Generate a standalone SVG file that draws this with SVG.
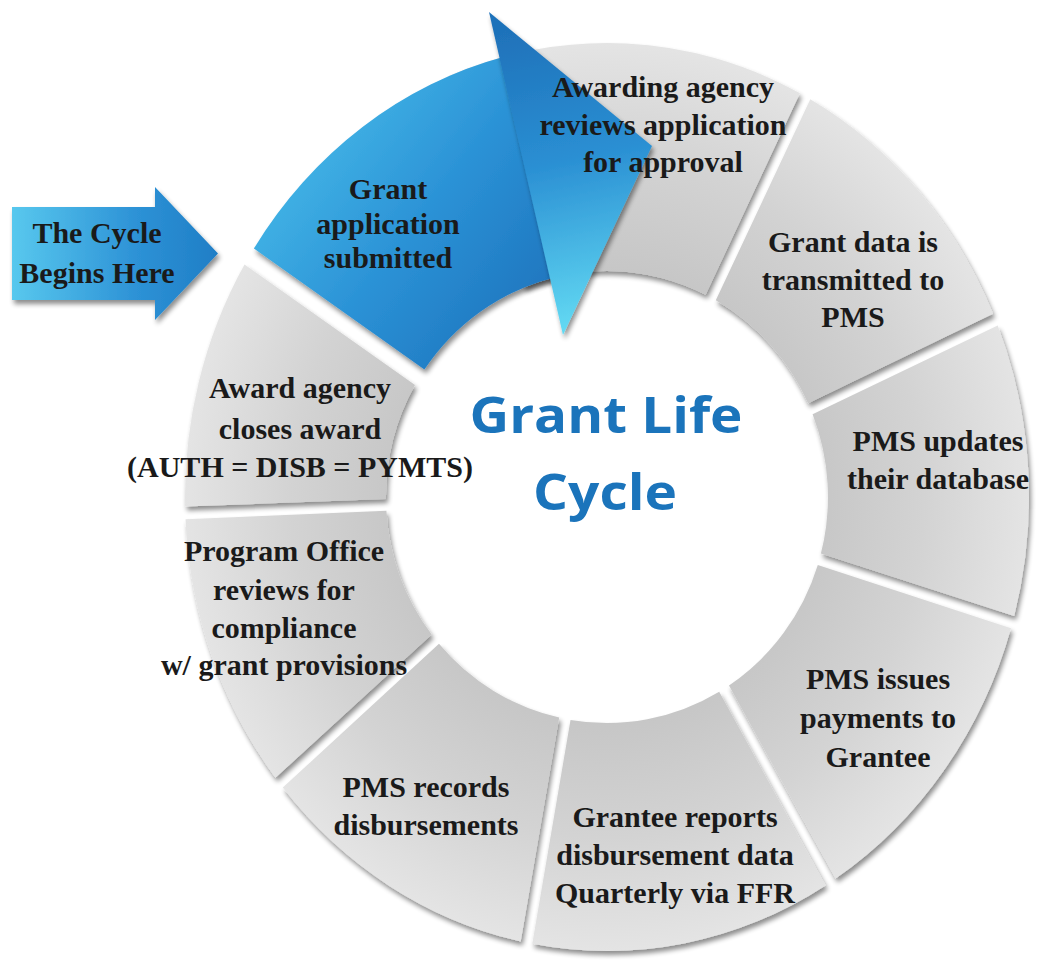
<svg xmlns="http://www.w3.org/2000/svg" width="1038" height="962" viewBox="0 0 1038 962">
  <defs>
    <!-- ring segment fill: darker toward the hole, lighter at the rim -->
    <radialGradient id="grayFill" gradientUnits="userSpaceOnUse" cx="607" cy="497" r="454" gradientTransform="translate(607 497) scale(0.93 1) translate(-607 -497)">
      <stop offset="0.45" stop-color="#c4c4c4"/>
      <stop offset="0.75" stop-color="#d3d3d3"/>
      <stop offset="1" stop-color="#e4e4e4"/>
    </radialGradient>
    <linearGradient id="blueBody" gradientUnits="userSpaceOnUse" x1="250" y1="150" x2="530" y2="370">
      <stop offset="0" stop-color="#48bdea"/>
      <stop offset="0.5" stop-color="#2b92d6"/>
      <stop offset="1" stop-color="#1c70ba"/>
    </linearGradient>
    <linearGradient id="blueHead" gradientUnits="userSpaceOnUse" x1="510" y1="30" x2="575" y2="330">
      <stop offset="0" stop-color="#1f72ba"/>
      <stop offset="0.45" stop-color="#2a8fd3"/>
      <stop offset="1" stop-color="#63daf3"/>
    </linearGradient>
    <linearGradient id="startFill" gradientUnits="userSpaceOnUse" x1="12" y1="0" x2="218" y2="0">
      <stop offset="0" stop-color="#58c8ee"/>
      <stop offset="0.6" stop-color="#2d92d6"/>
      <stop offset="1" stop-color="#1f7ec6"/>
    </linearGradient>
    <filter id="shadow" x="-10%" y="-10%" width="125%" height="125%">
      <feGaussianBlur in="SourceAlpha" stdDeviation="2.5"/>
      <feOffset dx="2" dy="4" result="blur"/>
      <feComponentTransfer>
        <feFuncA type="linear" slope="0.45"/>
      </feComponentTransfer>
      <feMerge>
        <feMergeNode/>
        <feMergeNode in="SourceGraphic"/>
      </feMerge>
    </filter>
    <style>
      .seg { fill: url(#grayFill); filter: url(#shadow); }
      .lbl { font-family: "Liberation Serif", "Times New Roman", serif; font-weight: bold; font-size: 30px; fill: #1a1a1a; text-anchor: middle; }
      .title { font-family: "Open Sans", "Liberation Sans", sans-serif; font-weight: bold; font-size: 51px; fill: #1b74bb; text-anchor: middle; }
    </style>
  </defs>

  <rect width="1038" height="962" fill="#ffffff"/>

  <!-- ring segments, clockwise from the top -->
  <g id="awarding-agency-reviews">
    <path class="seg" d="M448.9 76.1 A422 454 0 0 1 799.9 93.2 L705.6 294.8 A221 226 0 0 0 524.2 287.5 Z"/>
  </g>
  <g id="grant-data-transmitted">
    <path class="seg" d="M810.3 99.2 A422 454 0 0 1 993.1 313.8 L808.1 403.3 A221 226 0 0 0 715.8 300.3 Z"/>
    <text class="lbl" x="853" y="252">Grant data is</text>
    <text class="lbl" x="853" y="290">transmitted to</text>
    <text class="lbl" x="853" y="327">PMS</text>
  </g>
  <g id="pms-updates-database">
    <path class="seg" d="M997.7 325.5 A422 454 0 0 1 1014.2 616 L820.9 553.6 A221 226 0 0 0 812.6 414.2 Z"/>
    <text class="lbl" x="938" y="451">PMS updates</text>
    <text class="lbl" x="938" y="489">their database</text>
  </g>
  <g id="pms-issues-payments">
    <path class="seg" d="M1011 628.2 A422 454 0 0 1 835.6 878.6 L729 685.5 A221 226 0 0 0 817.8 565 Z"/>
    <text class="lbl" x="878" y="689">PMS issues</text>
    <text class="lbl" x="878" y="728">payments to</text>
    <text class="lbl" x="878" y="767">Grantee</text>
  </g>
  <g id="grantee-reports">
    <path class="seg" d="M825.6 885.4 A422 454 0 0 1 532.3 943.8 L570.5 719.9 A221 226 0 0 0 719.2 691.7 Z"/>
    <text class="lbl" x="675" y="827">Grantee reports</text>
    <text class="lbl" x="675" y="865">disbursement data</text>
    <text class="lbl" x="675" y="903">Quarterly via FFR</text>
  </g>
  <g id="pms-records">
    <path class="seg" d="M520.7 941.4 A422 454 0 0 1 282.8 787.6 L439 643.8 A221 226 0 0 0 559.2 717.6 Z"/>
    <text class="lbl" x="426" y="797">PMS records</text>
    <text class="lbl" x="426" y="835">disbursements</text>
  </g>
  <g id="program-office-review">
    <path class="seg" d="M275.4 777.8 A422 454 0 0 1 185.5 519.2 L386.4 510.8 A221 226 0 0 0 431.7 634.6 Z"/>
    <text class="lbl" x="284" y="561">Program Office</text>
    <text class="lbl" x="284" y="600">reviews for</text>
    <text class="lbl" x="284" y="638">compliance</text>
    <text class="lbl" x="284" y="675">w/ grant provisions</text>
  </g>
  <g id="award-agency-closes">
    <path class="seg" d="M185.1 506.5 A422 454 0 0 1 244.5 264.6 L415 385 A221 226 0 0 0 386 499 Z"/>
    <text class="lbl" x="300" y="398">Award agency</text>
    <text class="lbl" x="300" y="439">closes award</text>
    <text class="lbl" x="300" y="477">(AUTH = DISB = PYMTS)</text>
  </g>

  <!-- first step: curved blue arrow ending in a head over the top segment -->
  <g id="grant-application-submitted">
    <path d="M253.9 248.4 A422 454 0 0 1 504.9 56.5 L553.5 277.7 A221 226 0 0 0 424.4 369.6 Z" fill="url(#blueBody)" filter="url(#shadow)"/>
    <path d="M489 12 L652 146 L563 335 Z" fill="url(#blueHead)" filter="url(#shadow)"/>
    <text class="lbl" x="388" y="199">Grant</text>
    <text class="lbl" x="388" y="234">application</text>
    <text class="lbl" x="388" y="268">submitted</text>
  </g>

  <!-- label of the top segment sits above the arrow head -->
  <g id="awarding-agency-label">
    <text class="lbl" x="663" y="97">Awarding agency</text>
    <text class="lbl" x="663" y="135">reviews application</text>
    <text class="lbl" x="663" y="172">for approval</text>
  </g>

  <!-- entry arrow -->
  <g id="cycle-begins-here">
    <path d="M12 207 H155 V187 L218 253.5 L155 320 V300 H12 Z" fill="url(#startFill)" filter="url(#shadow)"/>
    <text class="lbl" x="97" y="243">The Cycle</text>
    <text class="lbl" x="97" y="283">Begins Here</text>
  </g>

  <!-- centre title -->
  <g id="title">
    <text class="title" x="606" y="433" textLength="273" lengthAdjust="spacingAndGlyphs">Grant Life</text>
    <text class="title" x="605" y="510" textLength="144" lengthAdjust="spacingAndGlyphs">Cycle</text>
  </g>

  <g id="connectors"></g>
</svg>
